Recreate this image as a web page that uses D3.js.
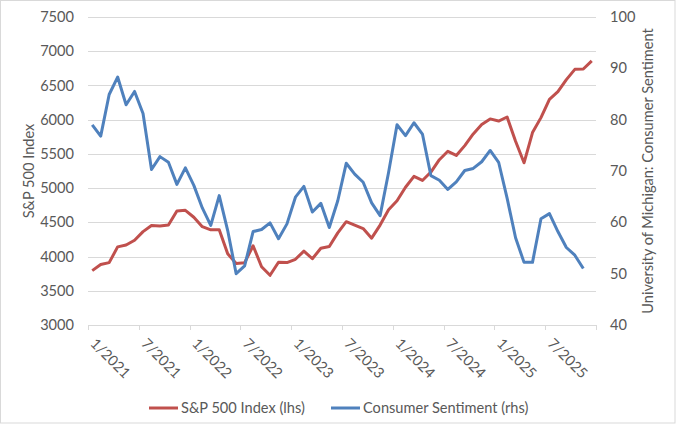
<!DOCTYPE html>
<html>
<head>
<meta charset="utf-8">
<script src="https://cdn.jsdelivr.net/npm/d3@7"></script>
<style>
    body { margin: 0; background: #fff; }
    svg text { font-family: Lato, "Open Sans", sans-serif; fill: #595959; font-size: 14.6px; }
</style>
</head>
<body>
<div id="chart"></div>
<script>
// monthly categories 1/2021 .. 12/2025
let years = [2021, 2022, 2023, 2024, 2025];
let months = [];
years.forEach(y => { for (let m = 1; m <= 12; m++) months.push(m + '/' + y); });

// S&P 500 monthly average (lhs)
let sp500 = [
    3794, 3883, 3911, 4141, 4168, 4238, 4364, 4454, 4446, 4461, 4667, 4675,
    4574, 4436, 4391, 4392, 4040, 3898, 3911, 4158, 3851, 3726, 3917, 3912,
    3960, 4079, 3968, 4121, 4146, 4346, 4509, 4458, 4409, 4269, 4460, 4685,
    4815, 5012, 5171, 5112, 5235, 5415, 5538, 5478, 5621, 5792, 5930, 6011,
    5980, 6039, 5684, 5370, 5811, 6030, 6297, 6409, 6585, 6735, 6740, 6860
];

// University of Michigan consumer sentiment (rhs)
let sentiment = [
    79.0, 76.8, 84.9, 88.3, 82.9, 85.5, 81.2, 70.3, 72.8, 71.7, 67.4, 70.6,
    67.2, 62.8, 59.4, 65.2, 58.4, 50.0, 51.5, 58.2, 58.6, 59.9, 56.8, 59.7,
    64.9, 67.0, 62.0, 63.7, 59.0, 64.2, 71.5, 69.4, 67.8, 63.8, 61.3, 69.7,
    79.0, 76.9, 79.4, 77.2, 69.1, 68.2, 66.4, 67.9, 70.1, 70.5, 71.8, 74.0,
    71.7, 64.7, 57.0, 52.2, 52.2, 60.7, 61.7, 58.2, 55.1, 53.6, 51.0
];

let leftTicks = [3000, 3500, 4000, 4500, 5000, 5500, 6000, 6500, 7000, 7500];
let rightTicks = [40, 50, 60, 70, 80, 90, 100];
let seriesNames = ['S&P 500 Index (lhs)', 'Consumer Sentiment (rhs)'];
let colors = ['#C0504D', '#4F81BD'];

let width = 676, height = 426;
let plot = {left: 88, right: 596, top: 17, bottom: 325};

let svg = d3.select('#chart').append('svg')
    .attr('width', width).attr('height', height);

// chart area border
svg.append('rect')
    .attr('x', 0.5).attr('y', 0.5)
    .attr('width', 674.5).attr('height', 422.5)
    .attr('fill', 'none').attr('stroke', '#D9D9D9');

let x = d3.scaleBand().domain(months).range([plot.left, plot.right]);
let yL = d3.scaleLinear().domain([3000, 7500]).range([plot.bottom, plot.top]);
let yR = d3.scaleLinear().domain([40, 100]).range([plot.bottom, plot.top]);
let cx = i => x(months[i]) + x.bandwidth() / 2;

// gridlines
svg.append('g').selectAll('line')
    .data(leftTicks.slice(1))
    .join('line')
    .attr('x1', plot.left).attr('x2', plot.right)
    .attr('y1', d => Math.round(yL(d)) + 0.5).attr('y2', d => Math.round(yL(d)) + 0.5)
    .attr('stroke', '#D9D9D9');

// left axis labels
svg.append('g').selectAll('text')
    .data(leftTicks)
    .join('text')
    .attr('x', 74).attr('y', d => yL(d))
    .attr('dy', '0.35em')
    .attr('text-anchor', 'end')
    .text(d => d);

// right axis labels
svg.append('g').selectAll('text')
    .data(rightTicks)
    .join('text')
    .attr('x', 610).attr('y', d => yR(d))
    .attr('dy', '0.35em')
    .text(d => d);

// category axis
let xAxis = svg.append('g');
xAxis.append('line')
    .attr('x1', plot.left).attr('x2', plot.right)
    .attr('y1', plot.bottom + 0.5).attr('y2', plot.bottom + 0.5)
    .attr('stroke', '#D9D9D9');

let tickIdx = d3.range(0, months.length + 1, 6);
xAxis.selectAll('line.tick')
    .data(tickIdx)
    .join('line').classed('tick', true)
    .attr('x1', d => Math.round(plot.left + d * x.bandwidth()) + 0.5)
    .attr('x2', d => Math.round(plot.left + d * x.bandwidth()) + 0.5)
    .attr('y1', plot.bottom).attr('y2', plot.bottom + 5)
    .attr('stroke', '#D9D9D9');

xAxis.selectAll('text')
    .data(tickIdx.filter(i => i < months.length))
    .join('text')
    .attr('transform', i => 'translate(' + (cx(i) + 1) + ',' + (plot.bottom + 16) + ') rotate(45)')
    .attr('dy', '0.35em')
    .text(i => months[i]);

// axis titles
svg.append('text')
    .attr('transform', 'translate(34,171) rotate(-90)')
    .attr('text-anchor', 'middle')
    .text('S&P 500 Index');

svg.append('text')
    .attr('transform', 'translate(653,171) rotate(-90)')
    .attr('text-anchor', 'middle')
    .text('University of Michigan: Consumer Sentiment');

// lines
let lineL = d3.line().x((d, i) => cx(i)).y(d => yL(d));
let lineR = d3.line().x((d, i) => cx(i)).y(d => yR(d));

svg.append('path')
    .datum(sp500)
    .attr('d', lineL)
    .attr('fill', 'none')
    .attr('stroke', colors[0])
    .attr('stroke-width', 3)
    .attr('stroke-linejoin', 'round');

svg.append('path')
    .datum(sentiment)
    .attr('d', lineR)
    .attr('fill', 'none')
    .attr('stroke', colors[1])
    .attr('stroke-width', 3)
    .attr('stroke-linejoin', 'round');

// legend
let legendX = [149, 331];
let legend = svg.append('g').selectAll('g')
    .data(seriesNames)
    .join('g')
    .attr('transform', (d, i) => 'translate(' + legendX[i] + ',408)');

legend.append('line')
    .attr('x1', 0).attr('x2', 29)
    .attr('stroke', (d, i) => colors[i])
    .attr('stroke-width', 3);

legend.append('text')
    .attr('x', 32).attr('dy', '0.35em')
    .text(d => d);
</script>
</body>
</html>
